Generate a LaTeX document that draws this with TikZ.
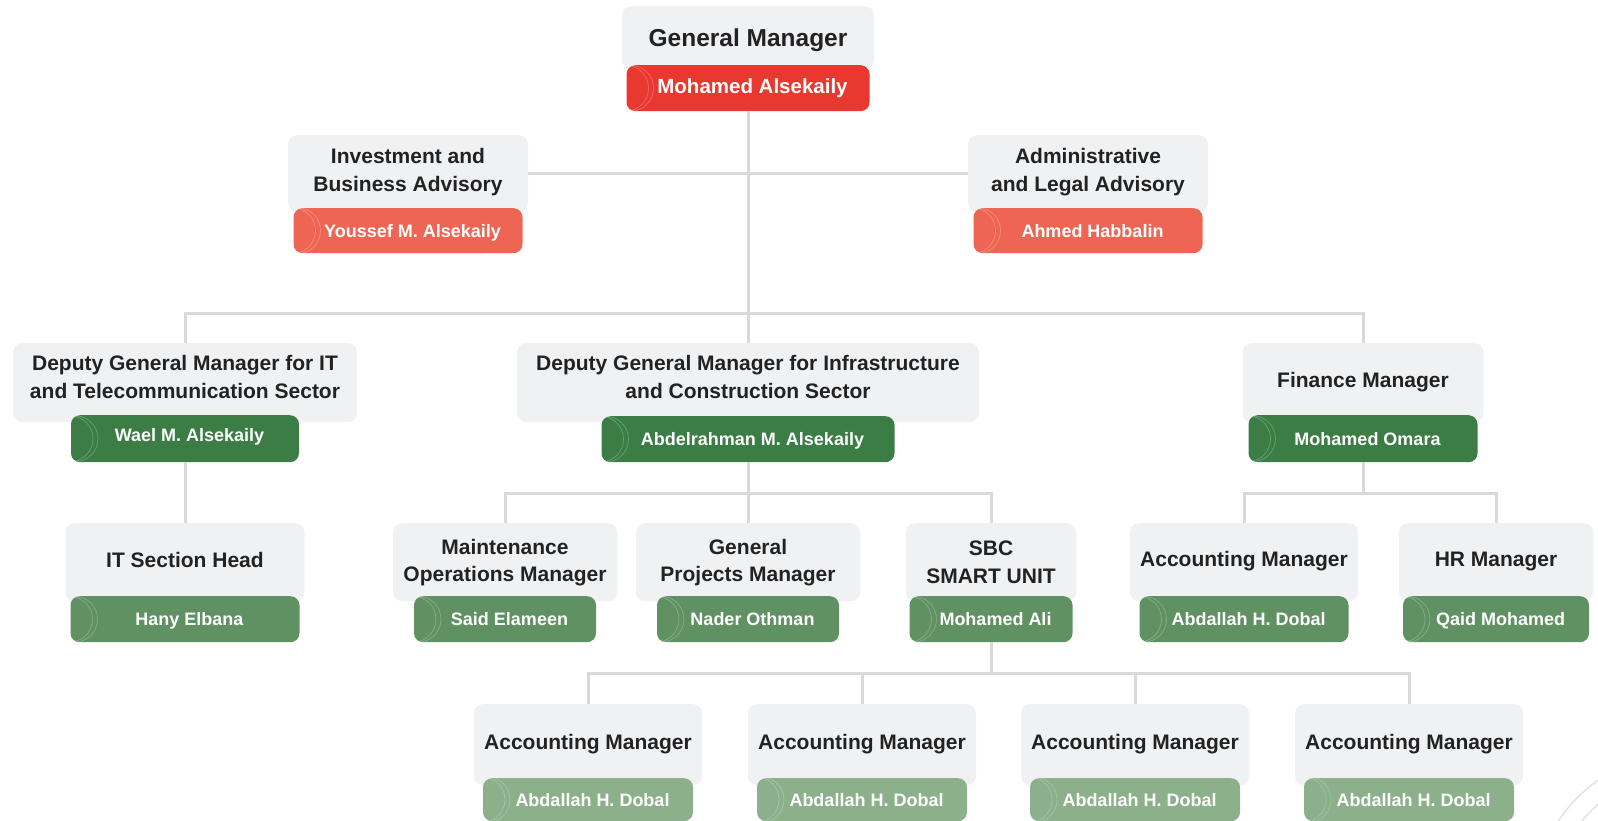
\documentclass[tikz,border=0pt]{standalone}
\usepackage{fontspec}
\setmainfont{Liberation Sans}
\usetikzlibrary{calc}
\definecolor{boxgray}{HTML}{F0F1F3}
\definecolor{redA}{HTML}{E8382F}
\definecolor{redB}{HTML}{EE6653}
\definecolor{greenA}{HTML}{3B7D45}
\definecolor{greenB}{HTML}{5F9163}
\definecolor{greenC}{HTML}{8BB08A}
\definecolor{linegray}{HTML}{D9D9D9}
\definecolor{txt}{HTML}{222222}
\definecolor{deco}{HTML}{E2E2E2}
\newcommand\ttlfont{\bfseries\fontsize{21}{27.5}\selectfont}
\newcommand\gmttlfont{\bfseries\fontsize{24.5}{28}\selectfont}
\newcommand\nmfont{\bfseries\fontsize{18}{20}\selectfont}
\newcommand\gmnmfont{\bfseries\fontsize{20.5}{22}\selectfont}
\tikzset{
  gbox/.style={fill=boxgray, draw=none, rounded corners=9pt, anchor=north, inner sep=0pt},
  nbox/.style={draw=none, rounded corners=9pt, anchor=north, inner sep=0pt, text=white, font=\nmfont,
    text height=13pt, text depth=0pt, execute at begin node=\hspace*{9pt},
    path picture={\draw[white, opacity=.25, line width=.7pt]
      ([xshift=4pt]path picture bounding box.west) circle[radius=23pt]
      ([xshift=-1pt]path picture bounding box.west) circle[radius=23pt];}},
  ttl/.style={font=\ttlfont, text=txt, align=center, inner sep=0pt},
  conn/.style={draw=linegray, line width=3pt}
}
\begin{document}
\begin{tikzpicture}[x=1pt,y=-1pt]
\useasboundingbox (0,0) rectangle (1598,821);
% decorative corner arcs
\begin{scope}
\clip (0,0) rectangle (1598,821);
\draw[deco, line width=1.5pt] (1680,900) circle[radius=145pt];
\draw[deco, line width=1.5pt] (1680,900) circle[radius=126pt];
\end{scope}
% General Manager
\node[gbox, minimum width=252pt, minimum height=63pt] (gm) at (748,6) {};
\node[nbox, fill=redA, minimum width=243pt, minimum height=46pt, font=\gmnmfont, text height=10pt] (gmn) at (748,65) {Mohamed Alsekaily};
\node[ttl, font=\gmttlfont] (gmt) at (748,40) {General Manager};
% Advisors
\node[gbox, minimum width=240pt, minimum height=77pt] (inv) at (408,135) {};
\node[nbox, fill=redB, minimum width=229pt, minimum height=45pt] (invn) at (408,208) {Youssef M. Alsekaily};
\node[ttl] (invt) at (408,172) {Investment and\\Business Advisory};
\node[gbox, minimum width=240pt, minimum height=77pt] (adm) at (1088,135) {};
\node[nbox, fill=redB, minimum width=229pt, minimum height=45pt] (admn) at (1088,208) {Ahmed Habbalin};
\node[ttl] (admt) at (1088,172) {Administrative\\and Legal Advisory};
% Deputies
\node[gbox, minimum width=344pt, minimum height=79pt] (dit) at (185,343) {};
\node[nbox, fill=greenA, minimum width=228pt, minimum height=47pt, text height=5pt] (ditn) at (185,415) {Wael M. Alsekaily};
\node[ttl] (ditt) at (185,377) {Deputy General Manager for IT\\and Telecommunication Sector};
\node[gbox, minimum width=462pt, minimum height=79pt] (dinf) at (748,343) {};
\node[nbox, fill=greenA, minimum width=293pt, minimum height=46pt] (dinfn) at (748,416) {Abdelrahman M. Alsekaily};
\node[ttl] (dinft) at (748,377) {Deputy General Manager for Infrastructure\\and Construction Sector};
\node[gbox, minimum width=241pt, minimum height=79pt] (fin) at (1363,343) {};
\node[nbox, fill=greenA, minimum width=229pt, minimum height=47pt] (finn) at (1363,415) {Mohamed Omara};
\node[ttl] (fint) at (1363,382) {Finance Manager};
% Third row
\node[gbox, minimum width=239pt, minimum height=78pt] (ith) at (185,523) {};
\node[nbox, fill=greenB, minimum width=229pt, minimum height=46pt] (ithn) at (185,596) {Hany Elbana};
\node[ttl] (itht) at (185,560) {IT Section Head};
\node[gbox, minimum width=224pt, minimum height=78pt] (mnt) at (505,523) {};
\node[nbox, fill=greenB, minimum width=182pt, minimum height=46pt] (mntn) at (505,596) {Said Elameen};
\node[ttl] (mntt) at (505,562.5) {Maintenance\\Operations Manager};
\node[gbox, minimum width=224pt, minimum height=78pt] (gp) at (748,523) {};
\node[nbox, fill=greenB, minimum width=182pt, minimum height=46pt] (gpn) at (748,596) {Nader Othman};
\node[ttl] (gpt) at (748,562.5) {General\\Projects Manager};
\node[gbox, minimum width=170pt, minimum height=78pt] (sbc) at (991,523) {};
\node[nbox, fill=greenB, minimum width=163pt, minimum height=46pt] (sbcn) at (991,596) {Mohamed Ali};
\node[ttl] (sbct) at (991,562.5) {SBC\\SMART UNIT};
\node[gbox, minimum width=228pt, minimum height=78pt] (acc) at (1244,523) {};
\node[nbox, fill=greenB, minimum width=209pt, minimum height=46pt] (accn) at (1244,596) {Abdallah H. Dobal};
\node[ttl] (acct) at (1244,561) {Accounting Manager};
\node[gbox, minimum width=194pt, minimum height=78pt] (hr) at (1496,523) {};
\node[nbox, fill=greenB, minimum width=186pt, minimum height=46pt] (hrn) at (1496,596) {Qaid Mohamed};
\node[ttl] (hrt) at (1496,561) {HR Manager};
% Bottom row
\foreach \i/\cx in {1/588,2/862,3/1135,4/1409}{
  \node[gbox, minimum width=228pt, minimum height=81pt] (b\i) at (\cx,704) {};
  \node[nbox, fill=greenC, minimum width=210pt, minimum height=43pt] (b\i n) at (\cx,778) {Abdallah H. Dobal};
  \node[ttl] (b\i t) at (\cx,744) {Accounting Manager};
}
% Connectors
\coordinate (bus1) at (748,313);
\coordinate (bus2) at (748,493);
\coordinate (bus3) at (1363,493);
\coordinate (bus4) at (991,673);
\draw[conn] (gmn.south) -- (dinf.north);
\draw[conn] (inv.east) -- (adm.west);
\draw[conn] (dit.north) |- (bus1) -| (fin.north);
\draw[conn] (ditn.south) -- (ith.north);
\draw[conn] (dinfn.south) -- (gp.north);
\draw[conn] (mnt.north) |- (bus2) -| (sbc.north);
\draw[conn] (finn.south) -- (bus3);
\draw[conn] (acc.north) |- (bus3) -| (hr.north);
\draw[conn] (sbcn.south) -- (bus4);
\draw[conn] (b1.north) |- (bus4) -| (b4.north);
\draw[conn] (b2.north) -- (b2.north |- bus4);
\draw[conn] (b3.north) -- (b3.north |- bus4);
\end{tikzpicture}
\end{document}
